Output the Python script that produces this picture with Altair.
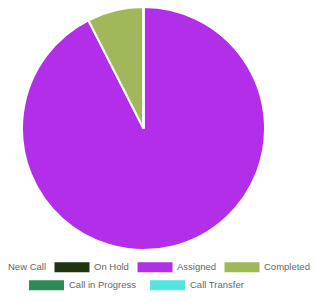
import altair as alt
import pandas as pd

categories = ["New Call", "On Hold", "Assigned", "Completed", "Call in Progress", "Call Transfer"]
values = [0, 0, 37, 3, 0, 0]
colors = ["#3e95cd", "#1e350f", "#b22ee8", "#a0b85a", "#2e8b57", "#55e5e0"]
legend_rows = [0, 0, 0, 0, 1, 1]

df = pd.DataFrame({
    "category": categories,
    "value": values,
    "order": list(range(len(categories))),
    "row": legend_rows,
})

rect_path = "M-1,-0.2857H1V0.2857H-1Z"


def legend(x, y, label_offset, col_pad):
    return alt.Legend(
        orient="none", legendX=x, legendY=y, direction="horizontal", title=None,
        symbolType=rect_path, symbolSize=1225, symbolStrokeWidth=0, symbolOpacity=1,
        labelFont="Liberation Sans", labelFontSize=9.5, labelColor="#666666",
        labelOffset=label_offset, columnPadding=col_pad, padding=0,
    )


base = alt.Chart(df).mark_arc(stroke="white", strokeWidth=2, radius=121.5).encode(
    theta=alt.Theta("value:Q", stack=True),
    order=alt.Order("order:Q"),
    x=alt.value(135.5),
    y=alt.value(120.5),
)

layer_a = base.transform_filter("datum.row == 0").encode(
    color=alt.Color("category:N",
                    scale=alt.Scale(domain=categories[:4], range=colors[:4]),
                    legend=legend(-39.5, 241.5, 4.5, 8))
)
layer_b = base.transform_filter("datum.row == 1").encode(
    color=alt.Color("category:N",
                    scale=alt.Scale(domain=categories[4:], range=colors[4:]),
                    legend=legend(21, 259.5, 5, 13))
)

chart = alt.layer(layer_a, layer_b).resolve_scale(color="independent").properties(
    width=302, height=295, autosize="none", padding=0
).configure_view(stroke=None)

chart.save("out.html", embed_options={"renderer": "svg", "actions": False})
